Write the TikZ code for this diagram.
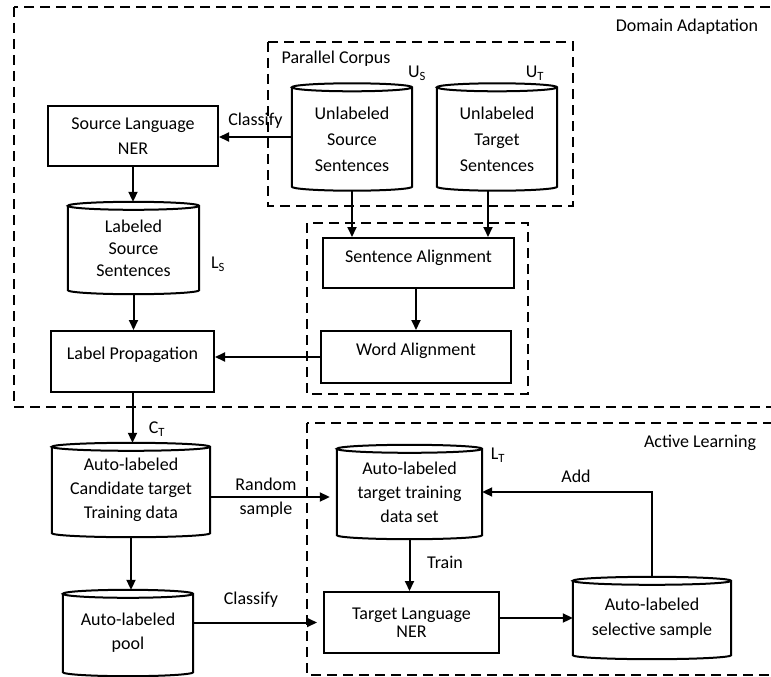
\documentclass[tikz,border=0pt]{standalone}
\usepackage{fontspec}
\setmainfont{Carlito}
\usetikzlibrary{arrows.meta,calc}
\newcommand{\cylnode}[5]{%
  \node[cylbox, minimum width=#3, minimum height=#4] (#1) at (#2) {#5};
  \draw[boxline] let \p1=(#1.north west), \p2=(#1.south east), \n1={(\x2-\x1)/2} in
    (\x1,\y1-4pt) -- (\x1,\y2+4pt)
    arc[start angle=180,end angle=360,x radius=\n1,y radius=4pt]
    -- (\x2,\y1-4pt)
    arc[start angle=0,end angle=360,x radius=\n1,y radius=4pt];
}
\begin{document}
\begin{tikzpicture}[x=1pt,y=-1pt,
  every node/.style={font=\fontsize{18}{24}\selectfont, inner sep=0pt},
  boxnode/.style={draw, line width=2pt, align=center},
  cylbox/.style={align=center},
  boxline/.style={line width=2pt},
  dashbox/.style={line width=1.8pt, dash pattern=on 10pt off 6pt},
  arr/.style={line width=2pt, -{Triangle[length=10pt,width=9pt]}}]
\useasboundingbox (0,0) rectangle (771,677);
\clip (0,0) rectangle (771,677);

% dashed groups
\draw[dashbox] (14,7) rectangle (800,407);
\draw[dashbox] (307,423) rectangle (800,675);
\draw[dashbox] (268,42) rectangle (573,206);
\draw[dashbox] (307,223) rectangle (528,394);

% group labels
\node (tda) at (687,27) {Domain Adaptation};
\node (tal) at (700,443) {Active Learning};
\node (tpc) at (336,59) {Parallel Corpus};

% boxes
\node[boxnode, minimum width=170, minimum height=60] (srcner) at (133,136) {Source Language\\[1pt]NER};
\node[boxnode, minimum width=163, minimum height=61, text height=13pt, text depth=17pt] (labprop) at (132.5,361.5) {Label Propagation};
\node[boxnode, minimum width=191, minimum height=50, text height=13pt, text depth=15pt] (sentalign) at (418.5,263) {Sentence Alignment};
\node[boxnode, minimum width=190, minimum height=52, text height=13pt, text depth=16pt] (wordalign) at (416,357) {Word Alignment};
\node[boxnode, minimum width=175, minimum height=61] (tlner) at (411.5,622.5) {Target Language\\[-6pt]NER};

% cylinders
\cylnode{usrc}{352,137}{120}{107}{\strut Unlabeled\\[2pt]Source\\[2pt]Sentences}
\cylnode{utgt}{497,137}{120}{107}{\strut Unlabeled\\[2pt]Target\\[2pt]Sentences}
\cylnode{lsrc}{133.5,248}{131}{92}{Labeled\\[-2pt]Source\\[-2pt]Sentences}
\cylnode{cand}{131,490}{158}{94}{Auto-labeled\\Candidate target\\Training data}
\cylnode{ttrain}{409.5,492}{145}{94}{Auto-labeled\\target training\\data set}
\cylnode{pool}{128,633}{130}{86}{Auto-labeled\\pool}
\cylnode{selsample}{652,618}{158}{82}{Auto-labeled\\[1pt]selective sample}

% set labels
\node (us) at (417,73) {U\textsubscript{S}};
\node (ut) at (535,73) {U\textsubscript{T}};
\node (ls) at (218,264) {L\textsubscript{S}};
\node (ct) at (157,429) {C\textsubscript{T}};
\node (lt) at (498,455) {L\textsubscript{T}};

% connectors
\draw[arr] (usrc.west) -- (usrc.west -| srcner.east) node[midway, above=8pt] (lcl1) {Classify};
\draw[arr] (srcner.south) -- (srcner.south |- lsrc.north);
\draw[arr] (lsrc.south) -- (lsrc.south |- labprop.north);
\draw[arr] (usrc.south) -- (usrc.south |- sentalign.north);
\draw[arr] ([xshift=-9pt]utgt.south) coordinate (ut0) -- (ut0 |- sentalign.north);
\draw[arr] (sentalign.south -| wordalign.north) -- (wordalign.north);
\draw[arr] (wordalign.west) -- (wordalign.west -| labprop.east);
\draw[arr] (labprop.south) -- (labprop.south |- cand.north);
\draw[arr, shorten >=7pt] ([yshift=-7pt]cand.east) coordinate (rs0) -- (rs0 -| ttrain.west);
\node[align=center] (lrs) at (266,498) {Random\\sample};
\draw[arr] (cand.south) -- (cand.south |- pool.north);
\draw[arr] (ttrain.south) -- (ttrain.south |- tlner.north);
\node (ltrain) at (445,562) {Train};
\draw[arr, shorten >=6pt] (tlner.west -| pool.east) -- (tlner.west);
\node (lcl2) at (251,600) {Classify};
\draw[arr] (tlner.east |- selsample.west) -- (selsample.west);
\draw[arr] (selsample.north) |- (ttrain.east);
\node (ladd) at (576,476) {Add};
\end{tikzpicture}
\end{document}
